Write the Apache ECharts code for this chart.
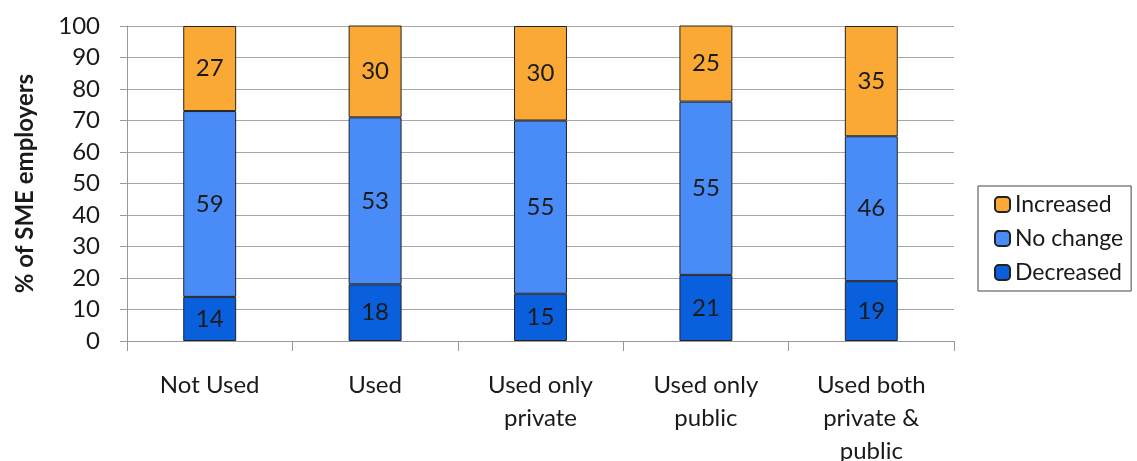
<!DOCTYPE html>
<html>
<head>
<meta charset="utf-8">
<script src="https://cdn.jsdelivr.net/npm/echarts@6/dist/echarts.min.js"></script>
<style>
  html, body { margin: 0; padding: 0; background: #fff; }
  #chart { width: 1137px; height: 461px; }
</style>
</head>
<body>
<div id="chart"></div>
<script>
// categories
var categories = ['Not Used', 'Used', 'Used only\nprivate', 'Used only\npublic', 'Used both\nprivate &\npublic'];
// series values (% of SME employers)
var decreased = [14, 18, 15, 21, 19];
var noChange = [59, 53, 55, 55, 46];
var increased = [27, 30, 30, 25, 35];

var font = 'Lato, "Open Sans", sans-serif';
var myChart = echarts.init(document.getElementById('chart'));

function stack(name, data, color) {
  return {
    name: name,
    type: 'bar',
    stack: 'total',
    data: data,
    barWidth: '32%',
    itemStyle: { color: color, borderColor: '#222', borderWidth: 1 },
    label: {
      show: true,
      position: 'inside',
      color: '#1a1a1a',
      fontSize: 24,
      fontFamily: font
    }
  }
}

var option = {
  animation: false,
  grid: { left: 127, right: 183, top: 26, bottom: 120, outerBoundsMode: 'none' },
  legend: {
    orient: 'vertical',
    left: 978,
    top: 186,
    data: ['Increased', 'No change', 'Decreased'],
    itemWidth: 15,
    itemHeight: 15,
    itemGap: 11,
    padding: [7, 8, 7, 16],
    borderColor: '#444',
    borderWidth: 1,
    textStyle: { fontSize: 23, fontFamily: font, color: '#1a1a1a' }
  },
  xAxis: {
    type: 'category',
    data: categories,
    axisLine: { lineStyle: { color: '#999' } },
    axisTick: { show: true, length: 10, lineStyle: { color: '#999' } },
    axisLabel: {
      color: '#1a1a1a',
      fontSize: 24,
      fontFamily: font,
      lineHeight: 33,
      margin: 28,
      interval: 0
    }
  },
  yAxis: {
    type: 'value',
    min: 0,
    max: 100,
    interval: 10,
    name: '% of SME employers',
    nameLocation: 'middle',
    nameGap: 90,
    nameTextStyle: { fontSize: 24, fontWeight: 'bold', fontFamily: font, color: '#1a1a1a' },
    axisLine: { show: true, lineStyle: { color: '#999' } },
    axisTick: { show: true, length: 7, lineStyle: { color: '#999' } },
    axisLabel: { color: '#1a1a1a', fontSize: 24, fontFamily: font, margin: 27 },
    splitLine: { lineStyle: { color: '#a6a6a6' } }
  },
  series: [
    stack('Decreased', decreased, '#0a5fdc'),
    stack('No change', noChange, '#4a8cf7'),
    stack('Increased', increased, '#fba935')
  ]
};
myChart.setOption(option);
</script>
</body>
</html>
